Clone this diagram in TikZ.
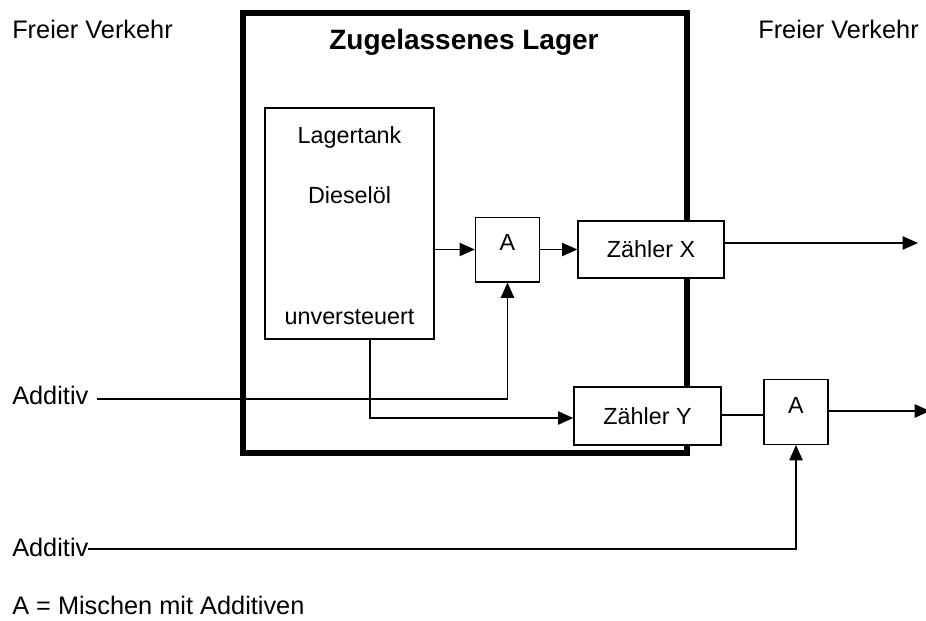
\documentclass[tikz,border=0pt]{standalone}
\usepackage{fontspec}
\setmainfont{Liberation Sans}
\usetikzlibrary{arrows.meta}

\begin{document}
\begin{tikzpicture}[
        x=0.75pt, y=-0.75pt,
        box/.style={rectangle, draw, fill=white, line width=1pt, inner sep=0pt,
                    font=\fontsize{17.5}{21}\selectfont},
        mixbox/.style={box, minimum width=48pt, minimum height=48.5pt, text depth=10pt},
        lager/.style={rectangle, draw, line width=4.5pt, inner sep=0pt},
        txt/.style={inner sep=0pt, font=\fontsize{17.5}{21}\selectfont},
        outtxt/.style={inner sep=0pt, anchor=base west, font=\fontsize{19}{23}\selectfont},
        arrow/.style={-{Triangle[length=11.5pt, width=10pt]}, line width=1pt},
        line/.style={line width=1pt}
    ]
        \useasboundingbox (0,0) rectangle (926,621);

        % zugelassenes Lager
        \node[lager, minimum width=333pt, minimum height=330pt] (zl) at (465,233) {};
        \node[anchor=base, inner sep=0pt, font=\fontsize{21}{25}\selectfont\bfseries]
            (title) at (464,49) {Zugelassenes Lager};

        % boxes
        \node[box, minimum width=126.75pt, minimum height=173.25pt] (tank) at (349.5,223.5) {};
        \node[txt, anchor=base] (t1) at (349.5,143) {Lagertank};
        \node[txt, anchor=base] (t2) at (349.5,203) {Dieselöl};
        \node[txt, anchor=base] (t3) at (349.5,324) {unversteuert};
        \node[mixbox] (mixa) at (507.5,249.5) {A};
        \node[box, minimum width=109.5pt, minimum height=42.75pt] (zx) at (651,249.5) {Zähler X};
        \node[box, minimum width=110.25pt, minimum height=43.5pt] (zy) at (647.5,416) {Zähler Y};
        \node[mixbox] (mixb) at (796,412) {A};

        % texts
        \node[outtxt] (fvl) at (12,38) {Freier Verkehr};
        \node[outtxt] (fvr) at (758,38) {Freier Verkehr};
        \node[outtxt] (add1) at (12,404) {Additiv};
        \node[outtxt] (add2) at (12,556) {Additiv};
        \node[outtxt] (leg) at (12,614) {A = Mischen mit Additiven};

        % free ends
        \coordinate (outx) at (918,243);
        \coordinate (outy) at (930,411);
        \coordinate (a1) at (97,399);
        \coordinate (a2) at (88,549);
        \coordinate (tk) at (370,339);

        % connectors
        \draw[arrow] (tank.east |- mixa) -- (mixa.west);
        \draw[arrow] (mixa.east) -- (mixa.east -| zx.west);
        \draw[arrow] (zx.east |- outx) -- (outx);
        \draw[line] (zy.east |- 0,415) -- (mixb.west |- 0,415);
        \draw[arrow] (mixb.east |- outy) -- (outy);
        \draw[arrow] (a1) -| (mixa.south);
        \draw[arrow] (tk) |- (zy.west |- 0,418);
        \draw[arrow] (a2) -| (mixb.south);
    \end{tikzpicture}
\end{document}
